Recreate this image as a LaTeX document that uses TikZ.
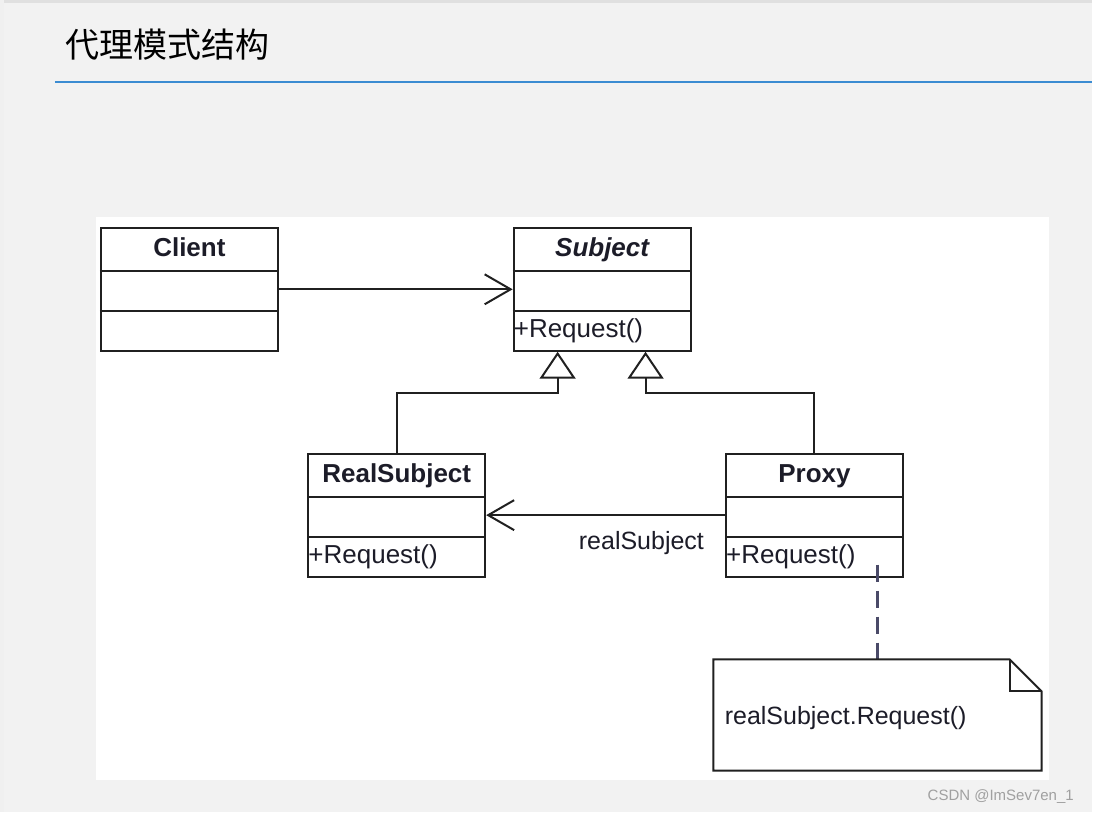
\documentclass[tikz,border=0pt]{standalone}
\usepackage{fontspec}
\setmainfont{Liberation Sans}
\newfontfamily\cjk{Noto Sans CJK SC}
\usetikzlibrary{arrows.meta, positioning}
\definecolor{pagebg}{HTML}{F2F2F2}
\definecolor{rulebg}{HTML}{3C8CD2}
\definecolor{umlline}{HTML}{202020}
\definecolor{umltext}{HTML}{1C1C28}
\definecolor{notedash}{HTML}{4A4A68}
\definecolor{marktext}{HTML}{A0A0A0}

\tikzset{
  classbox/.style={draw=umlline, line width=2pt, fill=white, minimum width=177pt, minimum height=123pt, inner sep=0pt},
  classname/.style={font=\fontsize{26}{28}\selectfont\bfseries, text=umltext, anchor=base},
  classop/.style={font=\fontsize{26}{28}\selectfont, text=umltext, anchor=base west, inner sep=1pt},
  divider/.style={draw=umlline, line width=2pt},
  assoc/.style={draw=umlline, line width=2pt, -{Straight Barb[length=26pt,width=30pt,line width=2pt]}},
  inherit/.style={draw=umlline, line width=2pt, -{Triangle[open,length=27pt,width=36pt,line width=2pt]}},
  notelink/.style={draw=notedash, line width=2.5pt, dash pattern=on 17pt off 9pt},
}

\begin{document}
\begin{tikzpicture}[x=1pt, y=-1pt]
    % page and heading
    \fill[pagebg] (0,0) rectangle (1093,813);
    \fill[black!12] (0,0) rectangle (1093,3);
    \fill[black!6] (0,0) rectangle (4,813);
    \node[anchor=west, inner sep=0pt, font=\cjk\fontsize{34}{36}\selectfont] (title) at (65,45) {代理模式结构};
    \draw[rulebg, line width=1.5pt] (55,82) -- (1093,82);
    \fill[white] (96,217) rectangle (1050,781);

    % classes
    \node[classbox] (client) at (189.5,289.5) {};
    \node[classbox, right=234pt of client] (subject) {};
    \node[classbox, below=101pt of subject, xshift=212.5pt] (proxy) {};
    \node[classbox, left=239pt of proxy] (realsub) {};

    \foreach \c in {client, subject, realsub, proxy} {
        \draw[divider] ([yshift=-44pt]\c.north west) -- ([yshift=-44pt]\c.north east);
        \draw[divider] ([yshift=-84pt]\c.north west) -- ([yshift=-84pt]\c.north east);
    }

    \node[classname] (clientname) at ([yshift=-30pt]client.north) {Client};
    \node[classname] (subjectname) at ([yshift=-30pt]subject.north) {\itshape Subject};
    \node[classname] (realsubname) at ([yshift=-30pt]realsub.north) {RealSubject};
    \node[classname] (proxyname) at ([yshift=-30pt]proxy.north) {Proxy};

    \node[classop] (subjectop) at ([yshift=-111pt]subject.north west) {+Request()};
    \node[classop] (realsubop) at ([yshift=-111pt]realsub.north west) {+Request()};
    \node[classop] (proxyop) at ([yshift=-111pt]proxy.north west) {+Request()};

    % connectors
    \draw[assoc] (client) -- (subject);
    \draw[assoc] (proxy) -- node[pos=0.35, below=12pt, font=\fontsize{25}{27}\selectfont, text=umltext] (rolename) {realSubject} (realsub);

    \coordinate (fork1) at (558,393);
    \coordinate (fork2) at (646,393);
    \draw[inherit] (realsub.north) |- (fork1) -- (fork1 |- subject.south);
    \draw[inherit] (proxy.north) |- (fork2) -- (fork2 |- subject.south);

    % note
    \node[minimum width=328pt, minimum height=111pt, inner sep=0pt] (note) at (878,715.5) {};
    \coordinate (linkstart) at (878,565);
    \draw[notelink] (linkstart) -- (note.north);
    \draw[umlline, line width=2pt, fill=white] (note.north west) -- ([xshift=-32pt]note.north east) -- ([yshift=-32pt]note.north east) -- (note.south east) -- (note.south west) -- cycle;
    \draw[umlline, line width=2pt] ([xshift=-32pt]note.north east) |- ([yshift=-32pt]note.north east);
    \node[anchor=west, font=\fontsize{25}{27}\selectfont, text=umltext] (notetext) at ([xshift=8pt, yshift=-3pt]note.west) {realSubject.Request()};

    \node[anchor=east, font=\fontsize{15}{17}\selectfont, text=marktext] (mark) at (1078,797) {CSDN @ImSev7en\_1};
\end{tikzpicture}
\end{document}
